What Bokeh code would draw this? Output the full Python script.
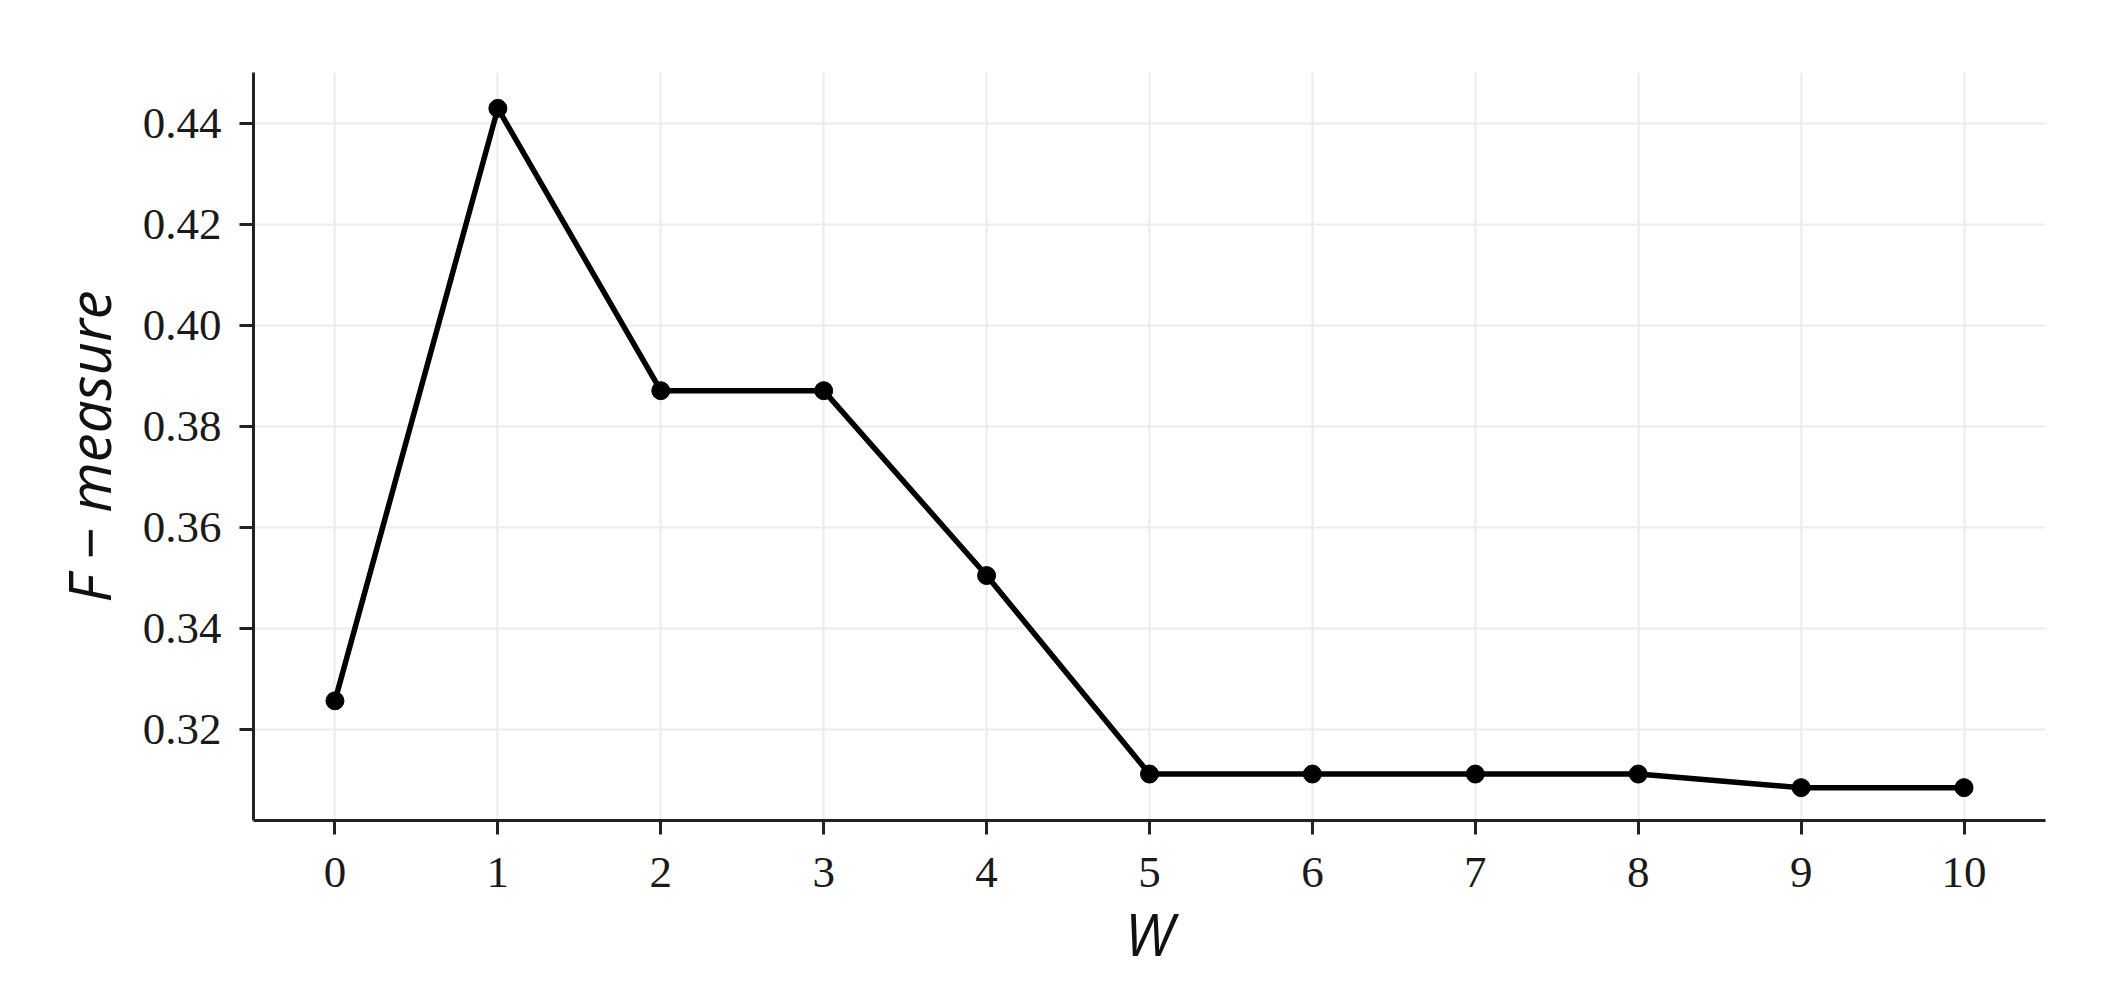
from bokeh.plotting import figure
from bokeh.models import FixedTicker, PrintfTickFormatter, Range1d
from bokeh.embed import file_html
from bokeh.resources import INLINE

w_values = [0, 1, 2, 3, 4, 5, 6, 7, 8, 9, 10]
f_measure = [0.3257, 0.4430, 0.3871, 0.3871, 0.3505, 0.3112, 0.3112, 0.3112, 0.3112, 0.3085, 0.3085]
x_ticks = [0, 1, 2, 3, 4, 5, 6, 7, 8, 9, 10]
y_ticks = [0.32, 0.34, 0.36, 0.38, 0.40, 0.42, 0.44]
x_label = "W"
y_label = "F \u2212 measure"

p = figure(width=2088, height=980, output_backend="svg", toolbar_location=None,
           x_range=Range1d(-0.5, 10.5), y_range=Range1d(0.302, 0.4501),
           min_border_left=253, min_border_right=43, min_border_top=72, min_border_bottom=160)
p.outline_line_color = None
p.background_fill_color = "white"
p.border_fill_color = "white"

p.line(w_values, f_measure, line_color="black", line_width=5.5)
p.scatter(w_values, f_measure, size=18, fill_color="black", line_color="black")

for ax in (p.xaxis[0], p.yaxis[0]):
    ax.axis_line_width = 3
    ax.axis_line_color = "#222222"
    ax.major_tick_line_width = 3
    ax.major_tick_line_color = "#222222"
    ax.major_tick_out = 14
    ax.major_tick_in = 0
    ax.minor_tick_line_color = None
    ax.major_label_text_font = "Liberation Serif"
    ax.major_label_text_font_size = "45px"
    ax.major_label_text_color = "#1a1a1a"
    ax.axis_label_text_font = "Open Sans"
    ax.axis_label_text_font_style = "italic"
    ax.axis_label_text_font_size = "58px"
    ax.axis_label_text_color = "#111111"

p.xaxis[0].ticker = FixedTicker(ticks=x_ticks)
p.yaxis[0].ticker = FixedTicker(ticks=y_ticks)
p.yaxis[0].formatter = PrintfTickFormatter(format="%.2f")
p.xaxis[0].axis_label = x_label
p.yaxis[0].axis_label = y_label
p.xaxis[0].major_label_standoff = 23
p.yaxis[0].major_label_standoff = 18
p.xaxis[0].axis_label_standoff = 4
p.yaxis[0].axis_label_standoff = 12

p.xgrid[0].ticker = FixedTicker(ticks=x_ticks)
p.ygrid[0].ticker = FixedTicker(ticks=y_ticks)
for g in (p.xgrid[0], p.ygrid[0]):
    g.grid_line_color = "#ebebeb"
    g.grid_line_width = 2

open("out.html", "w").write(file_html(p, INLINE))
